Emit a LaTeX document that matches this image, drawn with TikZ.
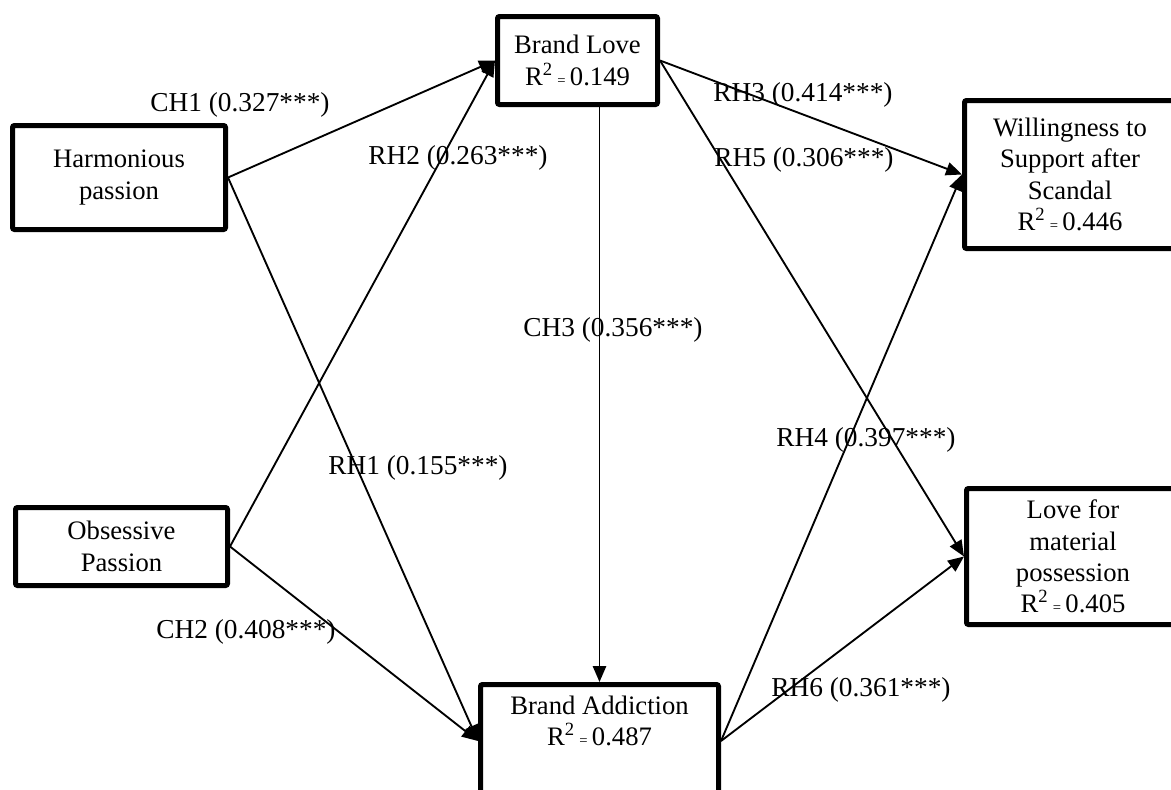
\documentclass[tikz,border=0pt]{standalone}
\usepackage{fontspec}
\setmainfont{Liberation Serif}
\usetikzlibrary{arrows.meta}
\newcommand{\rsq}[1]{R\textsuperscript{2}\,{\fontsize{11}{11}\selectfont =}\,#1}
\begin{document}
\begin{tikzpicture}[x=0.75pt,y=-0.75pt,
  box/.style={draw=black,line width=3.75pt,rounded corners=1.5pt,align=center,inner sep=0pt,
    font=\fontsize{20}{23.5}\selectfont},
  path/.style={line width=1.4pt,-{Triangle[length=12pt,width=10pt]}},
  lab/.style={font=\fontsize{20.5}{24}\selectfont,inner sep=0pt}]
\useasboundingbox (0,0) rectangle (1171,789);
\clip (0,0) rectangle (1171,789);
% boxes
\node[box,minimum width=159.75pt,minimum height=78pt] (hp) at (119,177.5) {Harmonious\\passion};
\node[box,minimum width=159pt,minimum height=58.5pt] (op) at (121.5,546.5) {Obsessive\\Passion};
\node[box,minimum width=120pt,minimum height=66pt] (bl) at (577.5,60.5) {Brand Love\\\rsq{0.149}};
\node[box,minimum width=178.5pt,minimum height=84.75pt] (ba) at (599.5,741) {Brand Addiction\\\rsq{0.487}\\[0pt]\strut};
\node[box,minimum width=158.25pt,minimum height=111pt] (ws) at (1070,174.5) {Willingness to\\Support after\\Scandal\\\rsq{0.446}};
\node[box,minimum width=159.75pt,minimum height=102pt] (lm) at (1073,556.5) {Love for\\material\\possession\\\rsq{0.405}};
% connectors
\draw[path] (hp.east) -- (bl.west);
\draw[path] (hp.east) -- (ba.west);
\draw[path] (op.east) -- (bl.west);
\draw[path] (op.east) -- (ba.west);
\draw[path] (bl.south -| ba.north) -- (ba.north);
\draw[path] (bl.east) -- (ws.west);
\draw[path] (bl.east) -- (lm.west);
\draw[path] (ba.east) -- (ws.west);
\draw[path] (ba.east) -- (lm.west);
% labels
\node[lab] (l1) at (240,105) {CH1 (0.327***)};
\node[lab] (l2) at (458,158) {RH2 (0.263***)};
\node[lab] (l3) at (803,95) {RH3 (0.414***)};
\node[lab] (l4) at (804,160) {RH5 (0.306***)};
\node[lab] (l5) at (613,330) {CH3 (0.356***)};
\node[lab] (l6) at (418,468) {RH1 (0.155***)};
\node[lab] (l7) at (866,440) {RH4 (0.397***)};
\node[lab] (l8) at (246,632) {CH2 (0.408***)};
\node[lab] (l9) at (861,690) {RH6 (0.361***)};
\end{tikzpicture}
\end{document}
